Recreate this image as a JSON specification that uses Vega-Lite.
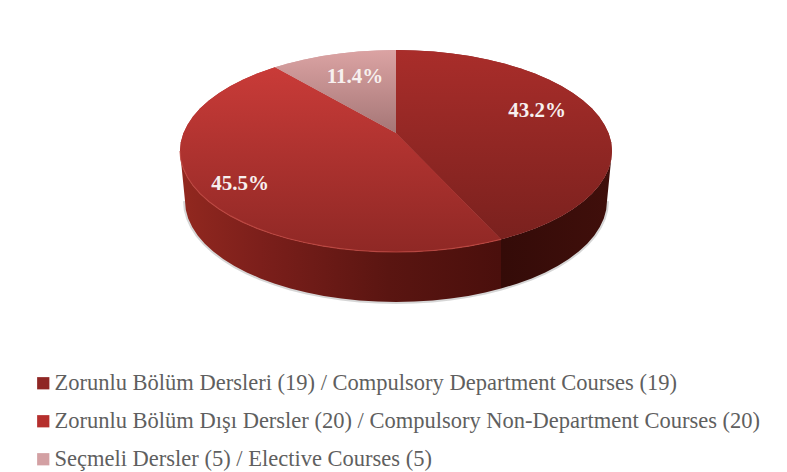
{
  "$schema": "https://vega.github.io/schema/vega-lite/v6.json",
  "width": 787,
  "height": 472,
  "padding": 0,
  "autosize": {"type": "fit", "contains": "padding"},
  "background": "#ffffff",
  "config": {"view": {"stroke": null}},
  "datasets": {
    "slices": [
      {"slice": "A", "course": "Zorunlu Bölüm Dersleri (19) / Compulsory Department Courses (19)", "share": "43.2%", "lx": 537, "ly": 111},
      {"slice": "B", "course": "Zorunlu Bölüm Dışı Dersler (20) / Compulsory Non-Department Courses (20)", "share": "45.5%", "lx": 240, "ly": 184},
      {"slice": "C", "course": "Seçmeli Dersler (5) / Elective Courses (5)", "share": "11.4%", "lx": 355, "ly": 77}
    ],
    "surface": [
      {"slice":"A","o":0,"x":396,"y":133},{"slice":"A","o":1,"x":396,"y":50},{"slice":"A","o":2,"x":414.8,"y":50.4},{"slice":"A","o":3,"x":433.5,"y":51.5},{"slice":"A","o":4,"x":451.9,"y":53.4},{"slice":"A","o":5,"x":469.9,"y":56.1},{"slice":"A","o":6,"x":487.3,"y":59.5},{"slice":"A","o":7,"x":504,"y":63.5},{"slice":"A","o":8,"x":519.9,"y":68.3},{"slice":"A","o":9,"x":534.8,"y":73.6},{"slice":"A","o":10,"x":548.7,"y":79.6},{"slice":"A","o":11,"x":561.5,"y":86.1},{"slice":"A","o":12,"x":572.9,"y":93.1},{"slice":"A","o":13,"x":583.1,"y":100.5},{"slice":"A","o":14,"x":591.8,"y":108.3},{"slice":"A","o":15,"x":599,"y":116.5},{"slice":"A","o":16,"x":604.6,"y":124.9},{"slice":"A","o":17,"x":608.7,"y":133.5},{"slice":"A","o":18,"x":611.2,"y":142.2},{"slice":"A","o":19,"x":612,"y":151},{"slice":"A","o":20,"x":611.2,"y":159.8},{"slice":"A","o":21,"x":608.7,"y":168.5},{"slice":"A","o":22,"x":604.6,"y":177.1},{"slice":"A","o":23,"x":599,"y":185.5},{"slice":"A","o":24,"x":591.8,"y":193.7},{"slice":"A","o":25,"x":583.1,"y":201.5},{"slice":"A","o":26,"x":572.9,"y":208.9},{"slice":"A","o":27,"x":561.5,"y":215.9},{"slice":"A","o":28,"x":548.7,"y":222.4},{"slice":"A","o":29,"x":534.8,"y":228.4},{"slice":"A","o":30,"x":519.9,"y":233.7},{"slice":"A","o":31,"x":504,"y":238.5},{"slice":"A","o":32,"x":501,"y":239.3},
      {"slice":"B","o":0,"x":396,"y":133},{"slice":"B","o":1,"x":501,"y":239.3},{"slice":"B","o":2,"x":487.3,"y":242.5},{"slice":"B","o":3,"x":469.9,"y":245.9},{"slice":"B","o":4,"x":451.9,"y":248.6},{"slice":"B","o":5,"x":433.5,"y":250.5},{"slice":"B","o":6,"x":414.8,"y":251.6},{"slice":"B","o":7,"x":396,"y":252},{"slice":"B","o":8,"x":377.2,"y":251.6},{"slice":"B","o":9,"x":358.5,"y":250.5},{"slice":"B","o":10,"x":340.1,"y":248.6},{"slice":"B","o":11,"x":322.1,"y":245.9},{"slice":"B","o":12,"x":304.7,"y":242.5},{"slice":"B","o":13,"x":288,"y":238.5},{"slice":"B","o":14,"x":272.1,"y":233.7},{"slice":"B","o":15,"x":257.2,"y":228.4},{"slice":"B","o":16,"x":243.3,"y":222.4},{"slice":"B","o":17,"x":230.5,"y":215.9},{"slice":"B","o":18,"x":219.1,"y":208.9},{"slice":"B","o":19,"x":208.9,"y":201.5},{"slice":"B","o":20,"x":200.2,"y":193.7},{"slice":"B","o":21,"x":193,"y":185.5},{"slice":"B","o":22,"x":187.4,"y":177.1},{"slice":"B","o":23,"x":183.3,"y":168.5},{"slice":"B","o":24,"x":180.8,"y":159.8},{"slice":"B","o":25,"x":180,"y":151},{"slice":"B","o":26,"x":180.8,"y":142.2},{"slice":"B","o":27,"x":183.3,"y":133.5},{"slice":"B","o":28,"x":187.4,"y":124.9},{"slice":"B","o":29,"x":193,"y":116.5},{"slice":"B","o":30,"x":200.2,"y":108.3},{"slice":"B","o":31,"x":208.9,"y":100.5},{"slice":"B","o":32,"x":219.1,"y":93.1},{"slice":"B","o":33,"x":230.5,"y":86.1},{"slice":"B","o":34,"x":243.3,"y":79.6},{"slice":"B","o":35,"x":257.2,"y":73.6},{"slice":"B","o":36,"x":272.1,"y":68.3},{"slice":"B","o":37,"x":275,"y":67.3},
      {"slice":"C","o":0,"x":396,"y":133},{"slice":"C","o":1,"x":275,"y":67.3},{"slice":"C","o":2,"x":288,"y":63.5},{"slice":"C","o":3,"x":304.7,"y":59.5},{"slice":"C","o":4,"x":322.1,"y":56.1},{"slice":"C","o":5,"x":340.1,"y":53.4},{"slice":"C","o":6,"x":358.5,"y":51.5},{"slice":"C","o":7,"x":377.2,"y":50.4},{"slice":"C","o":8,"x":396,"y":50}
    ],
    "wall": [
      {"p":"R","e":0,"o":0,"x":612,"y":151},{"p":"R","e":0,"o":1,"x":611.2,"y":159.8},{"p":"R","e":0,"o":2,"x":608.7,"y":168.5},{"p":"R","e":0,"o":3,"x":604.6,"y":177.1},{"p":"R","e":0,"o":4,"x":599,"y":185.5},{"p":"R","e":0,"o":5,"x":591.8,"y":193.7},{"p":"R","e":0,"o":6,"x":583.1,"y":201.5},{"p":"R","e":0,"o":7,"x":572.9,"y":208.9},{"p":"R","e":0,"o":8,"x":561.5,"y":215.9},{"p":"R","e":0,"o":9,"x":548.7,"y":222.4},{"p":"R","e":0,"o":10,"x":534.8,"y":228.4},{"p":"R","e":0,"o":11,"x":519.9,"y":233.7},{"p":"R","e":0,"o":12,"x":504,"y":238.5},{"p":"R","e":0,"o":13,"x":501,"y":239.3},
      {"p":"R","e":1,"o":14,"x":501,"y":288.6},{"p":"R","e":1,"o":15,"x":517,"y":283.7},{"p":"R","e":1,"o":16,"x":531.6,"y":278.4},{"p":"R","e":1,"o":17,"x":545.2,"y":272.4},{"p":"R","e":1,"o":18,"x":557.6,"y":265.9},{"p":"R","e":1,"o":19,"x":568.8,"y":258.9},{"p":"R","e":1,"o":20,"x":578.7,"y":251.5},{"p":"R","e":1,"o":21,"x":587.2,"y":243.7},{"p":"R","e":1,"o":22,"x":594.3,"y":235.5},{"p":"R","e":1,"o":23,"x":599.8,"y":227.1},{"p":"R","e":1,"o":24,"x":603.8,"y":218.5},{"p":"R","e":1,"o":25,"x":606.2,"y":209.8},{"p":"R","e":1,"o":26,"x":607,"y":201},
      {"p":"L","e":0,"o":0,"x":501,"y":239.3},{"p":"L","e":0,"o":1,"x":487.3,"y":242.5},{"p":"L","e":0,"o":2,"x":469.9,"y":245.9},{"p":"L","e":0,"o":3,"x":451.9,"y":248.6},{"p":"L","e":0,"o":4,"x":433.5,"y":250.5},{"p":"L","e":0,"o":5,"x":414.8,"y":251.6},{"p":"L","e":0,"o":6,"x":396,"y":252},{"p":"L","e":0,"o":7,"x":377.2,"y":251.6},{"p":"L","e":0,"o":8,"x":358.5,"y":250.5},{"p":"L","e":0,"o":9,"x":340.1,"y":248.6},{"p":"L","e":0,"o":10,"x":322.1,"y":245.9},{"p":"L","e":0,"o":11,"x":304.7,"y":242.5},{"p":"L","e":0,"o":12,"x":288,"y":238.5},{"p":"L","e":0,"o":13,"x":272.1,"y":233.7},{"p":"L","e":0,"o":14,"x":257.2,"y":228.4},{"p":"L","e":0,"o":15,"x":243.3,"y":222.4},{"p":"L","e":0,"o":16,"x":230.5,"y":215.9},{"p":"L","e":0,"o":17,"x":219.1,"y":208.9},{"p":"L","e":0,"o":18,"x":208.9,"y":201.5},{"p":"L","e":0,"o":19,"x":200.2,"y":193.7},{"p":"L","e":0,"o":20,"x":193,"y":185.5},{"p":"L","e":0,"o":21,"x":187.4,"y":177.1},{"p":"L","e":0,"o":22,"x":183.3,"y":168.5},{"p":"L","e":0,"o":23,"x":180.8,"y":159.8},{"p":"L","e":0,"o":24,"x":180,"y":151},
      {"p":"L","e":1,"o":25,"x":185,"y":201},{"p":"L","e":1,"o":26,"x":185.8,"y":209.8},{"p":"L","e":1,"o":27,"x":188.2,"y":218.5},{"p":"L","e":1,"o":28,"x":192.2,"y":227.1},{"p":"L","e":1,"o":29,"x":197.7,"y":235.5},{"p":"L","e":1,"o":30,"x":204.8,"y":243.7},{"p":"L","e":1,"o":31,"x":213.3,"y":251.5},{"p":"L","e":1,"o":32,"x":223.2,"y":258.9},{"p":"L","e":1,"o":33,"x":234.4,"y":265.9},{"p":"L","e":1,"o":34,"x":246.8,"y":272.4},{"p":"L","e":1,"o":35,"x":260.4,"y":278.4},{"p":"L","e":1,"o":36,"x":275,"y":283.7},{"p":"L","e":1,"o":37,"x":290.5,"y":288.5},{"p":"L","e":1,"o":38,"x":306.8,"y":292.5},{"p":"L","e":1,"o":39,"x":323.8,"y":295.9},{"p":"L","e":1,"o":40,"x":341.4,"y":298.6},{"p":"L","e":1,"o":41,"x":359.4,"y":300.5},{"p":"L","e":1,"o":42,"x":377.6,"y":301.6},{"p":"L","e":1,"o":43,"x":396,"y":302},{"p":"L","e":1,"o":44,"x":414.4,"y":301.6},{"p":"L","e":1,"o":45,"x":432.6,"y":300.5},{"p":"L","e":1,"o":46,"x":450.6,"y":298.6},{"p":"L","e":1,"o":47,"x":468.2,"y":295.9},{"p":"L","e":1,"o":48,"x":485.2,"y":292.5},{"p":"L","e":1,"o":49,"x":501,"y":288.6}
    ]
  },
  "encoding": {
    "x": {"field": "x", "type": "quantitative", "scale": {"domain": [0, 787]}, "axis": null},
    "y": {"field": "y", "type": "quantitative", "scale": {"domain": [472, 0]}, "axis": null},
    "order": {"field": "o", "type": "quantitative"}
  },
  "layer": [
    {
      "data": {"name": "wall"},
      "transform": [{"filter": "datum.e == 1"}],
      "mark": {"type": "line", "stroke": "#8a8a8a", "strokeWidth": 4, "opacity": 0.35},
      "encoding": {"order": {"field": "x", "type": "quantitative"}}
    },
    {
      "data": {"name": "wall"},
      "transform": [{"filter": "datum.p == 'L'"}],
      "mark": {
        "type": "line",
        "strokeWidth": 0,
        "fill": {
          "gradient": "linear", "x1": 0, "y1": 0, "x2": 1, "y2": 0,
          "stops": [
            {"offset": 0, "color": "#92281f"},
            {"offset": 0.25, "color": "#7c1f1b"},
            {"offset": 0.65, "color": "#5a1511"},
            {"offset": 1, "color": "#4a0f0c"}
          ]
        }
      }
    },
    {
      "data": {"name": "wall"},
      "transform": [{"filter": "datum.p == 'R'"}],
      "mark": {
        "type": "line",
        "strokeWidth": 0,
        "fill": {
          "gradient": "linear", "x1": 0, "y1": 0, "x2": 1, "y2": 0,
          "stops": [
            {"offset": 0, "color": "#340b08"},
            {"offset": 1, "color": "#400f0b"}
          ]
        }
      }
    },
    {
      "data": {"name": "surface"},
      "transform": [
        {"lookup": "slice", "from": {"data": {"name": "slices"}, "key": "slice", "fields": ["course"]}}
      ],
      "mark": {"type": "line", "strokeWidth": 0},
      "encoding": {
        "fill": {
          "field": "course",
          "type": "nominal",
          "scale": {
            "domain": [
              "Zorunlu Bölüm Dersleri (19) / Compulsory Department Courses (19)",
              "Zorunlu Bölüm Dışı Dersler (20) / Compulsory Non-Department Courses (20)",
              "Seçmeli Dersler (5) / Elective Courses (5)"
            ],
            "range": ["#8f2624", "#b52f2d", "#d3a0a3"]
          },
          "legend": {
            "orient": "none",
            "legendX": 32,
            "legendY": 372,
            "title": null,
            "symbolType": "square",
            "symbolSize": 150,
            "symbolStrokeWidth": 0,
            "labelFont": "Liberation Serif",
            "labelFontSize": 22.5,
            "labelColor": "#5f5f5f",
            "labelLimit": 760,
            "labelOffset": 0,
            "rowPadding": 15,
            "padding": 0
          }
        }
      }
    },
    {
      "data": {"name": "surface"},
      "transform": [{"filter": "datum.slice == 'A'"}],
      "mark": {"type": "line", "strokeWidth": 0, "fill": {"gradient": "linear", "x1": 0, "y1": 0, "x2": 0, "y2": 1, "stops": [{"offset": 0, "color": "#a92d2a"}, {"offset": 1, "color": "#7a211e"}]}}
    },
    {
      "data": {"name": "surface"},
      "transform": [{"filter": "datum.slice == 'B'"}],
      "mark": {"type": "line", "strokeWidth": 0, "fill": {"gradient": "linear", "x1": 0, "y1": 0, "x2": 0, "y2": 1, "stops": [{"offset": 0, "color": "#c93b38"}, {"offset": 1, "color": "#8f2825"}]}}
    },
    {
      "data": {"name": "surface"},
      "transform": [{"filter": "datum.slice == 'C'"}],
      "mark": {"type": "line", "strokeWidth": 0, "fill": {"gradient": "linear", "x1": 0, "y1": 0, "x2": 0, "y2": 1, "stops": [{"offset": 0, "color": "#dba3a3"}, {"offset": 1, "color": "#a57676"}]}}
    },
    {
      "data": {"name": "surface"},
      "transform": [{"filter": "datum.slice == 'B' && datum.o >= 1 && datum.o <= 25"}],
      "mark": {"type": "line", "stroke": "#bf4a44", "strokeWidth": 1.2, "opacity": 0.8}
    },
    {
      "data": {"name": "slices"},
      "mark": {"type": "text", "font": "Liberation Serif", "fontSize": 21, "fontWeight": "bold", "color": "#f7f0ef", "align": "center", "baseline": "middle"},
      "encoding": {
        "x": {"field": "lx", "type": "quantitative", "scale": {"domain": [0, 787]}, "axis": null},
        "y": {"field": "ly", "type": "quantitative", "scale": {"domain": [472, 0]}, "axis": null},
        "order": null,
        "text": {"field": "share", "type": "nominal"}
      }
    }
  ]
}
